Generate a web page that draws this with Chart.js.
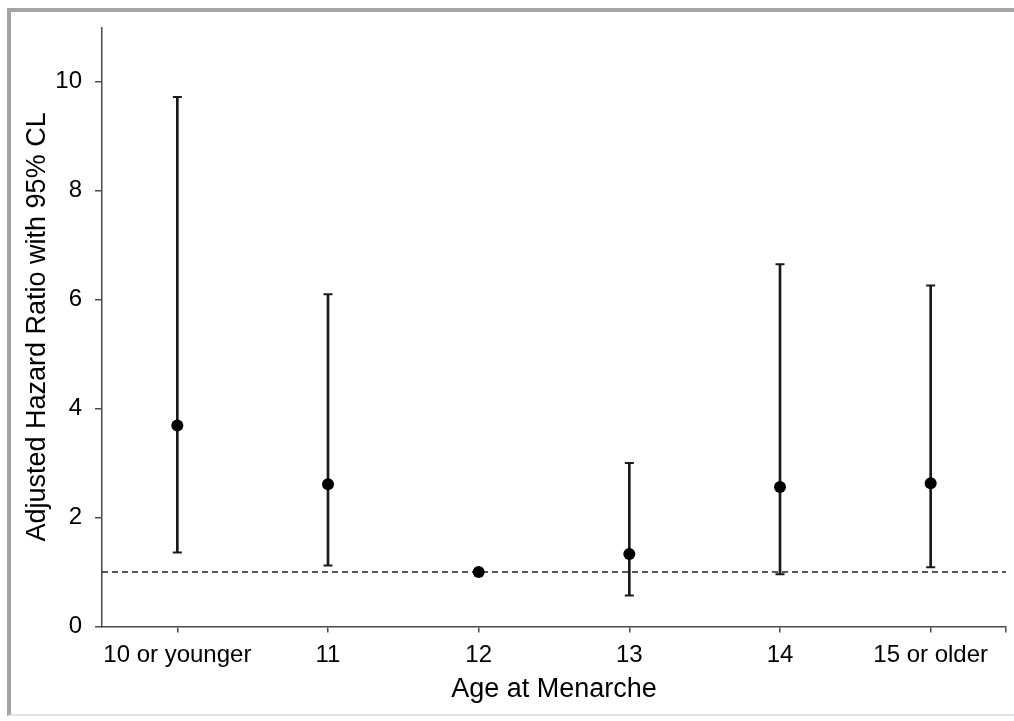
<!DOCTYPE html>
<html>
<head>
<meta charset="utf-8">
<script src="https://cdn.jsdelivr.net/npm/chart.js@4.4.1/dist/chart.umd.min.js"></script>
<style>
  html, body { margin: 0; padding: 0; background: #fff; }
  #frame {
    position: absolute; left: 7px; top: 8px; width: 1020px; height: 708px;
    border-left: 4px solid #a4a4a4; border-top: 4px solid #a4a4a4;
    border-bottom: 2px solid #e2e2e2; box-sizing: border-box;
  }
  #wrap { position: absolute; left: 0; top: 0; width: 1014px; height: 721px; }
</style>
</head>
<body>
<div id="frame"></div>
<div id="wrap"><canvas id="c"></canvas></div>
<script>
const categories = ['10 or younger', '11', '12', '13', '14', '15 or older'];
const hazardRatio = [3.69, 2.61, 1.00, 1.33, 2.56, 2.63];
const lowerCL = [1.36, 1.12, null, 0.57, 0.96, 1.09];
const upperCL = [9.72, 6.10, null, 3.00, 6.65, 6.26];
const referenceValue = 1;
const yTicks = [0, 2, 4, 6, 8, 10];
const yMax = 11;
const xTitle = 'Age at Menarche';
const yTitle = 'Adjusted Hazard Ratio with 95% CL';

const FONT = "'Liberation Sans', Arial, Helvetica, sans-serif";
const AXIS = '#4a4a4a';
const INK = '#1a1a1a';

const barData = [];
const capData = [];
categories.forEach((c, i) => {
  if (lowerCL[i] != null && upperCL[i] != null) {
    barData.push({ x: i, y: [lowerCL[i], upperCL[i]] });
    capData.push({ x: i, y: lowerCL[i] });
    capData.push({ x: i, y: upperCL[i] });
  }
});
const pointData = hazardRatio.map((v, i) => ({ x: i, y: v }));
const refData = [{ x: -0.5, y: referenceValue }, { x: categories.length - 0.5, y: referenceValue }];

new Chart(document.getElementById('c'), {
  type: 'scatter',
  data: {
    datasets: [
      { type: 'scatter', data: pointData, backgroundColor: '#000', borderWidth: 0,
        pointRadius: 6, pointHoverRadius: 6, order: 0 },
      { type: 'scatter', data: capData, pointStyle: 'line', pointRadius: 4.5,
        borderColor: INK, borderWidth: 2, pointHoverRadius: 4.5, order: 1 },
      { type: 'bar', data: barData, backgroundColor: INK, borderWidth: 0,
        barThickness: 2, order: 2 },
      { type: 'line', data: refData, borderColor: '#222', borderWidth: 1.5,
        borderDash: [6, 4], pointRadius: 0, fill: false, order: 3 }
    ]
  },
  options: {
    responsive: true,
    maintainAspectRatio: false,
    animation: false,
    layout: { padding: { top: 27, right: 6, left: 0, bottom: 0 } },
    plugins: { legend: { display: false }, tooltip: { enabled: false } },
    scales: {
      x: {
        type: 'linear',
        min: -0.5,
        max: categories.length - 0.5,
        offset: false,
        afterBuildTicks: (s) => {
          s.ticks = categories.map((_, i) => ({ value: i })).concat([{ value: categories.length - 0.5 }]);
        },
        afterFit: (s) => { s.height = 94.5; },
        ticks: {
          autoSkip: false, maxRotation: 0, minRotation: 0, padding: 8,
          color: '#000', font: { family: FONT, size: 24 },
          callback: (v) => Number.isInteger(v) ? categories[v] : ''
        },
        grid: { drawOnChartArea: false, drawTicks: true, tickLength: 6,
                color: AXIS, tickColor: AXIS, lineWidth: 1.5, offset: false },
        border: { display: true, color: AXIS, width: 1.5 },
        title: { display: true, text: xTitle, color: '#000',
                 font: { family: FONT, size: 27 }, padding: { top: 0, bottom: 15 } }
      },
      y: {
        type: 'linear',
        min: 0,
        max: yMax,
        afterBuildTicks: (s) => { s.ticks = yTicks.map(v => ({ value: v })); },
        afterFit: (s) => { s.width = 102; },
        ticks: { padding: 13, color: '#000', font: { family: FONT, size: 24 } },
        grid: { drawOnChartArea: false, drawTicks: true, tickLength: 7,
                color: AXIS, tickColor: AXIS, lineWidth: 1.5 },
        border: { display: true, color: AXIS, width: 1.5 },
        title: { display: true, text: yTitle, color: '#000',
                 font: { family: FONT, size: 27 }, padding: { top: 21, bottom: 0 } }
      }
    }
  }
});
</script>
</body>
</html>
